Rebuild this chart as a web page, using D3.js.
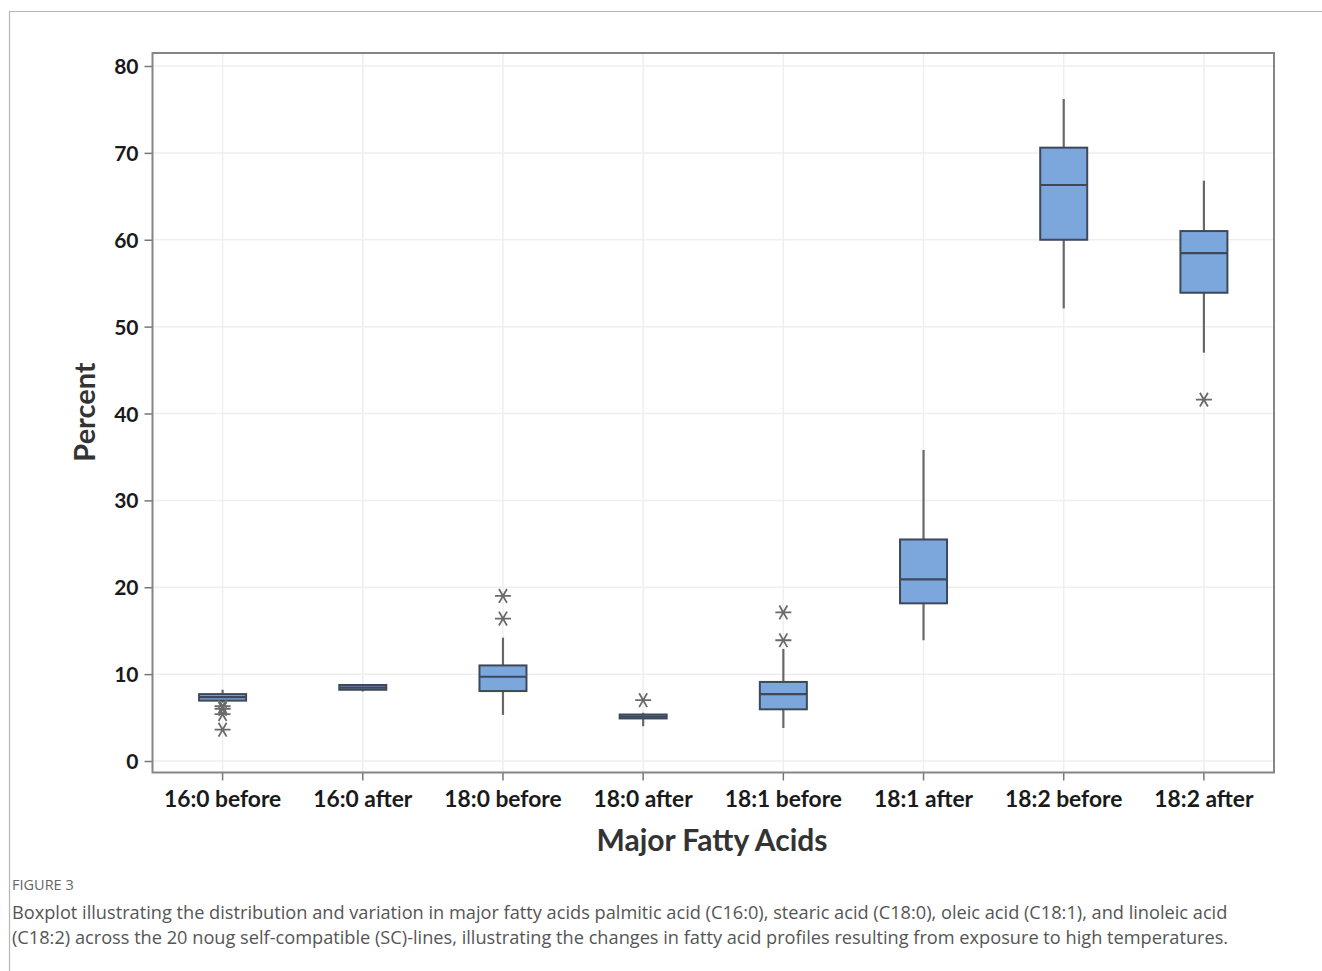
<!DOCTYPE html>
<html>
<head>
<meta charset="utf-8">
<script src="https://cdn.jsdelivr.net/npm/d3@7"></script>
<style>
  body { margin: 0; background: #fff; }
  svg { display: block; }
</style>
</head>
<body>
<svg id="chart" width="1322" height="971"></svg>
<script>
// values (percent)
var categories = ["16:0 before", "16:0 after", "18:0 before", "18:0 after",
                  "18:1 before", "18:1 after", "18:2 before", "18:2 after"];
var whiskerLow  = [6.7, 8.0, 5.3, 4.0, 3.8, 13.9, 52.1, 47.0];
var q1          = [6.95, 8.2, 8.05, 4.9, 5.95, 18.15, 60.0, 53.9];
var medians     = [7.35, 8.45, 9.7, 5.1, 7.7, 20.9, 66.3, 58.45];
var q3          = [7.7, 8.75, 11.0, 5.35, 9.1, 25.5, 70.6, 61.0];
var whiskerHigh = [8.2, 8.8, 14.2, 5.55, 12.9, 35.8, 76.2, 66.8];
var outliers    = [[6.3, 6.0, 5.4, 3.6], [], [16.4, 19.0], [7.0], [13.9, 17.1], [], [], [41.6]];
var yTicks = [0, 10, 20, 30, 40, 50, 60, 70, 80];

var svg = d3.select("#chart");

// outer figure frame (left + top)
svg.append("path").attr("d", "M9.5,971 V11.5 H1322")
  .attr("fill", "none").attr("stroke", "#b5b5b5").attr("stroke-width", 1.2);

var plot = { left: 152.5, right: 1274, top: 53, bottom: 772.5 };

var x = d3.scaleBand().domain(categories).range([plot.left, plot.right]).padding(0);
var y = d3.scaleLinear().domain([0, 80]).range([761, 66]);

var rows = categories.map(function(c, i) {
  return { cat: c, lo: whiskerLow[i], q1: q1[i], med: medians[i], q3: q3[i],
           hi: whiskerHigh[i], out: outliers[i] };
});

// gridlines
var grid = svg.append("g").attr("class", "grid");
grid.selectAll("line.h").data(yTicks).enter().append("line")
  .attr("x1", plot.left).attr("x2", plot.right)
  .attr("y1", function(d) { return y(d); }).attr("y2", function(d) { return y(d); })
  .attr("stroke", "#efefef").attr("stroke-width", 1.5);
grid.selectAll("line.v").data(categories).enter().append("line")
  .attr("x1", function(d) { return x(d) + x.bandwidth() / 2; })
  .attr("x2", function(d) { return x(d) + x.bandwidth() / 2; })
  .attr("y1", plot.top).attr("y2", plot.bottom)
  .attr("stroke", "#efefef").attr("stroke-width", 1.5);

// axes
var yAxis = svg.append("g").attr("transform", "translate(" + plot.left + ",0)")
  .call(d3.axisLeft(y).tickValues(yTicks).tickSize(8).tickPadding(6));
var xAxis = svg.append("g").attr("transform", "translate(0," + plot.bottom + ")")
  .call(d3.axisBottom(x).tickSize(8).tickPadding(7));
[yAxis, xAxis].forEach(function(a) {
  a.select(".domain").remove();
  a.selectAll(".tick line").attr("stroke", "#777").attr("stroke-width", 1.5);
  a.selectAll(".tick text").attr("fill", "#1a1a1a")
    .style("font-family", "Lato, 'Open Sans', sans-serif").style("font-weight", "700");
});
yAxis.selectAll(".tick text").style("font-size", "21px").attr("dy", "0.36em");
xAxis.selectAll(".tick text").style("font-size", "22.8px").attr("dy", "0.85em");

// plot frame
svg.append("rect")
  .attr("x", plot.left).attr("y", plot.top)
  .attr("width", plot.right - plot.left).attr("height", plot.bottom - plot.top)
  .attr("fill", "none").attr("stroke", "#858585").attr("stroke-width", 2);

// boxes
var boxW = 47;
var g = svg.append("g").selectAll("g.box").data(rows).enter().append("g")
  .attr("class", "box")
  .attr("transform", function(d) { return "translate(" + (x(d.cat) + x.bandwidth() / 2) + ",0)"; });

g.append("line").attr("x1", 0).attr("x2", 0)
  .attr("y1", function(d) { return y(d.hi); }).attr("y2", function(d) { return y(d.q3); })
  .attr("stroke", "#686868").attr("stroke-width", 2.2);
g.append("line").attr("x1", 0).attr("x2", 0)
  .attr("y1", function(d) { return y(d.q1); }).attr("y2", function(d) { return y(d.lo); })
  .attr("stroke", "#686868").attr("stroke-width", 2.2);
g.append("rect")
  .attr("x", -boxW / 2).attr("width", boxW)
  .attr("y", function(d) { return y(d.q3); })
  .attr("height", function(d) { return Math.max(1, y(d.q1) - y(d.q3)); })
  .attr("fill", "#7ba7dc").attr("stroke", "#3d4858").attr("stroke-width", 2);
g.append("line").attr("x1", -boxW / 2).attr("x2", boxW / 2)
  .attr("y1", function(d) { return y(d.med); }).attr("y2", function(d) { return y(d.med); })
  .attr("stroke", "#3d4858").attr("stroke-width", 2.2);

// outliers as asterisks
var star = "M-8,0H8M-4,-6.9L4,6.9M-4,6.9L4,-6.9";
g.selectAll("path.out").data(function(d) { return d.out; }).enter().append("path")
  .attr("class", "out")
  .attr("transform", function(v) { return "translate(0," + y(v) + ")"; })
  .attr("d", star).attr("fill", "none").attr("stroke", "#6a6a6a").attr("stroke-width", 1.8);

// axis titles
svg.append("text").attr("x", 712).attr("y", 851).attr("text-anchor", "middle")
  .style("font-family", "Lato, 'Open Sans', sans-serif").style("font-weight", "700")
  .style("font-size", "30px").attr("fill", "#333").text("Major Fatty Acids");
svg.append("text").attr("transform", "translate(95,412) rotate(-90)").attr("text-anchor", "middle")
  .style("font-family", "Lato, 'Open Sans', sans-serif").style("font-weight", "700")
  .style("font-size", "29px").attr("fill", "#333").text("Percent");

// caption
var cap = svg.append("g").style("font-family", "'Open Sans', sans-serif").attr("fill", "#555");
cap.append("text").attr("x", 12).attr("y", 890).style("font-size", "14.5px").attr("fill", "#666")
  .text("FIGURE 3");
cap.append("text").attr("x", 12).attr("y", 919).style("font-size", "18.2px")
  .text("Boxplot illustrating the distribution and variation in major fatty acids palmitic acid (C16:0), stearic acid (C18:0), oleic acid (C18:1), and linoleic acid");
cap.append("text").attr("x", 12).attr("y", 944).style("font-size", "18.2px")
  .text("(C18:2) across the 20 noug self-compatible (SC)-lines, illustrating the changes in fatty acid profiles resulting from exposure to high temperatures.");
</script>
</body>
</html>
